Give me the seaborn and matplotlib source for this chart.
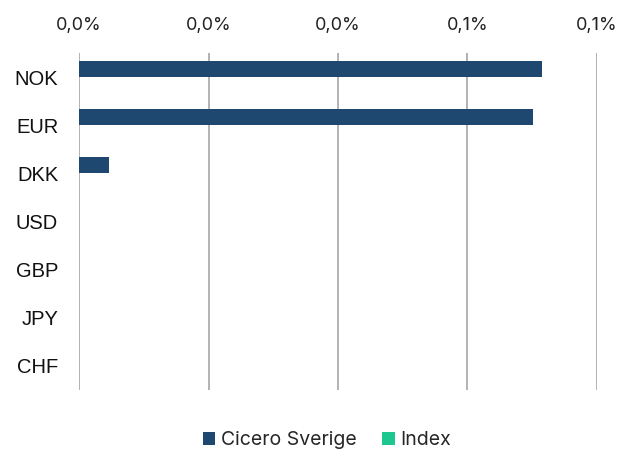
import matplotlib
matplotlib.use("Agg")
import matplotlib.pyplot as plt
import seaborn as sns
import pandas as pd
from matplotlib.ticker import FuncFormatter, FixedLocator
from matplotlib.patches import Patch

categories = ["NOK", "EUR", "DKK", "USD", "GBP", "JPY", "CHF"]
cicero = [0.000715, 0.000701, 0.000046, 0.0, 0.0, 0.0, 0.0]
index_vals = [0.0, 0.0, 0.0, 0.0, 0.0, 0.0, 0.0]
series_names = ["Cicero Sverige", "Index"]
x_ticks = [0.0, 0.0002, 0.0004, 0.0006, 0.0008]

colors = ["#1F4870", "#1EC690"]

df = pd.DataFrame({
    "cat": categories * 2,
    "val": cicero + index_vals,
    "series": [series_names[0]] * len(categories) + [series_names[1]] * len(categories),
})

sns.set_style("white")
fig = plt.figure(figsize=(6.34, 4.53), dpi=100)
ax = fig.add_axes([79 / 634, 1 - 390 / 453, (597 - 79) / 634, (390 - 53) / 453])

sns.barplot(data=df, y="cat", x="val", hue="series", order=categories,
            hue_order=series_names, palette=colors, orient="h",
            width=0.66, dodge=True, gap=0, saturation=1, ax=ax, legend=False,
            errorbar=None, linewidth=0)

ax.set_xlim(0, 0.0008)
ax.xaxis.set_major_locator(FixedLocator(x_ticks))
ax.xaxis.set_major_formatter(FuncFormatter(lambda v, p: f"{v*100:.1f}%".replace(".", ",")))
ax.xaxis.tick_top()
ax.grid(axis="x", color="#A6A6A6", linewidth=1.2)
ax.grid(axis="y", visible=False)
ax.set_axisbelow(True)
for s in ax.spines.values():
    s.set_visible(False)
ax.set_xlabel("")
ax.set_ylabel("")
ax.tick_params(axis="x", length=0, pad=14)
ax.tick_params(axis="y", length=0, pad=15)
for lab in ax.get_xticklabels():
    lab.set_fontfamily("Inter")
    lab.set_fontsize(13)
    lab.set_color("#222222")
for lab in ax.get_yticklabels():
    lab.set_fontfamily("Liberation Sans")
    lab.set_fontsize(14.5)
    lab.set_color("#111111")

handles = [Patch(facecolor=c, edgecolor="none") for c in colors]
leg = fig.legend(handles, series_names, loc="center", bbox_to_anchor=(327 / 634, 1 - 440 / 453),
                 ncol=2, frameon=False, handlelength=0.65, handleheight=0.65,
                 handletextpad=0.3, columnspacing=1.3,
                 prop={"family": "Inter", "size": 14})

fig.savefig("out.png", dpi=100)
